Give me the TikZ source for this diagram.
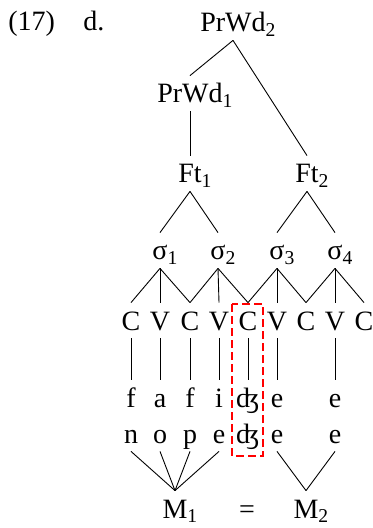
\documentclass[tikz,border=0pt]{standalone}
\usepackage{fontspec}
\setmainfont{Liberation Serif}
\newfontfamily\ipafont{Liberation Serif}
\begin{document}
\begin{tikzpicture}[x=0.5pt,y=-0.5pt,
  lbl/.style={anchor=base,font=\fontsize{14}{16}\selectfont,inner xsep=0pt,inner ysep=4pt,text height=9.5pt,text depth=0pt},
  edge/.style={draw=black,line width=0.45pt},
  hilite/.style={draw=red,line width=0.9pt,dash pattern=on 4pt off 2pt}]
\useasboundingbox (0,0) rectangle (373,528);
\newcommand{\sbs}[1]{\rlap{\textsubscript{#1}}}
% example label
\node[lbl,anchor=base west] (num) at (8,31) {(17)};
\node[lbl,anchor=base west] (let) at (83,31) {d.};
% upper tree
\node[lbl] (p2) at (233,32) {PrWd\sbs{2}};
\node[lbl] (p1) at (190,103) {PrWd\sbs{1}};
\node[lbl] (f1) at (190,183) {Ft\sbs{1}};
\node[lbl] (f2) at (307,183) {Ft\sbs{2}};
\node[lbl] (s1) at (160,260) {σ\sbs{1}};
\node[lbl] (s2) at (218,260) {σ\sbs{2}};
\node[lbl] (s3) at (277,260) {σ\sbs{3}};
\node[lbl] (s4) at (335,260) {σ\sbs{4}};
% CV tier
\foreach \i/\x/\t in {1/131/C,2/160/V,3/190/C,4/219/V,5/248/C,6/277/V,7/306/C,8/335/V,9/364/C}
  \node[lbl] (c\i) at (\x,330) {\t};
% segment tiers
\foreach \i/\x/\t in {1/131/f,2/160/a,3/190/f,4/219/i,5/248/{\ipafont ʤ},6/277/e,8/335/e}
  \node[lbl] (a\i) at (\x,407) {\t};
\foreach \i/\x/\t in {1/131/n,2/160/o,3/190/p,4/219/e,5/248/{\ipafont ʤ},6/277/e,8/335/e}
  \node[lbl] (b\i) at (\x,443) {\t};
% morphemes
\node[lbl] (m1) at (175,518) {M\sbs{1}};
\node[lbl] (eq) at (247,518) {=};
\node[lbl] (m2) at (306,518) {M\sbs{2}};
% connectors
\draw[edge] (p2.south) -- (p1.north);
\draw[edge] (p2.south) -- (f2.north);
\draw[edge] (p1.south) -- (f1.north);
\draw[edge] (f1.south) -- (s1.north);
\draw[edge] (f1.south) -- (s2.north);
\draw[edge] (f2.south) -- (s3.north);
\draw[edge] (f2.south) -- (s4.north);
\draw[edge] (s1.south) -- (c1.north);
\draw[edge] (s1.south) -- (c2.north);
\draw[edge] (s1.south) -- (c3.north);
\draw[edge] (s2.south) -- (c3.north);
\draw[edge] (s2.south) -- (c4.north);
\draw[edge] (s2.south) -- (c5.north);
\draw[edge] (s3.south) -- (c5.north);
\draw[edge] (s3.south) -- (c6.north);
\draw[edge] (s3.south) -- (c7.north);
\draw[edge] (s4.south) -- (c7.north);
\draw[edge] (s4.south) -- (c8.north);
\draw[edge] (s4.south) -- (c9.north);
\foreach \i in {1,2,3,4,5,6,8}
  \draw[edge] (c\i.south) -- (a\i.north);
\foreach \i in {1,2,3,4}
  \draw[edge] (b\i.south) -- (m1.north);
\draw[edge] (b6.south) -- (m2.north);
\draw[edge] (b8.south) -- (m2.north);
% highlight box
\draw[hilite] (232,304) rectangle (263,456);
\end{tikzpicture}
\end{document}
